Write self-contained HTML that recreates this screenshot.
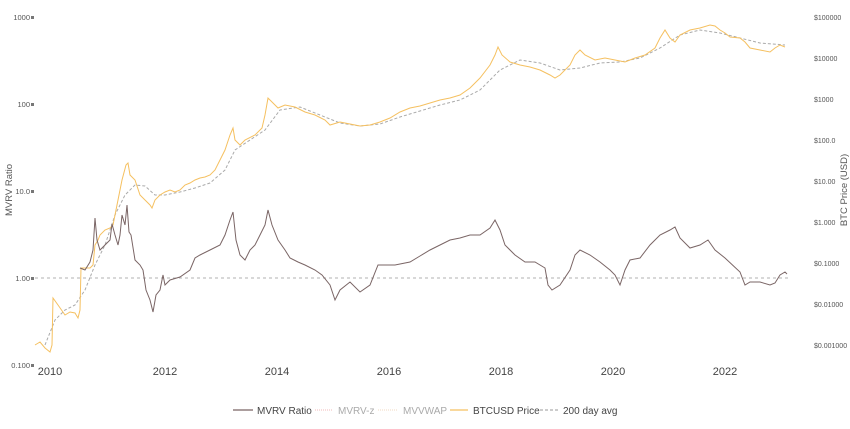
<!DOCTYPE html>
<html><head><meta charset="utf-8"><style>
html,body{margin:0;padding:0;background:#fff;}
svg{display:block;font-family:"Liberation Sans",sans-serif;}
</style></head><body>
<svg width="850" height="429" viewBox="0 0 850 429">
<g font-size="7.5" fill="#555" text-anchor="end">
<text x="30" y="20">1000</text><text x="30" y="107">100</text><text x="30" y="194">10.0</text><text x="30" y="281">1.00</text><text x="30" y="368">0.100</text>
</g>
<g fill="#777"><rect x="31" y="16" width="3" height="3"/><rect x="31" y="103" width="3" height="3"/><rect x="31" y="190" width="3" height="3"/><rect x="31" y="277" width="3" height="3"/><rect x="31" y="364" width="3" height="3"/></g>
<g font-size="7" fill="#555">
<text x="814" y="20">$100000</text><text x="814" y="61">$10000</text><text x="814" y="102">$1000</text><text x="814" y="143">$100.0</text><text x="814" y="184">$10.00</text><text x="814" y="225">$1.000</text><text x="814" y="266">$0.1000</text><text x="814" y="307">$0.01000</text><text x="814" y="348">$0.001000</text>
</g>
<text transform="translate(12,190) rotate(-90)" font-size="9.5" fill="#555" text-anchor="middle">MVRV Ratio</text>
<text transform="translate(847,190) rotate(-90)" font-size="9.5" fill="#555" text-anchor="middle">BTC Price (USD)</text>
<g font-size="11" fill="#444" text-anchor="middle">
<text x="50" y="375">2010</text><text x="165" y="375">2012</text><text x="277" y="375">2014</text><text x="389" y="375">2016</text><text x="501" y="375">2018</text><text x="613" y="375">2020</text><text x="725" y="375">2022</text>
</g>
<line x1="35" y1="278" x2="790" y2="278" stroke="#999" stroke-width="0.8" stroke-dasharray="3,3"/>
<polyline fill="none" stroke="#aaa" stroke-width="1" stroke-dasharray="3,2" points="45,345 55,320 65,310 75,305 85,290 95,265 105,245 115,215 125,195 135,185 145,186 155,195 165,195 180,192 195,188 210,183 225,170 235,150 250,140 265,130 280,110 300,107 320,115 340,123 360,126 380,124 400,117 420,111 440,105 460,100 480,90 500,70 520,60 540,63 560,70 580,68 600,63 620,62 640,58 660,48 680,35 700,30 720,33 740,38 760,43 785,45"/>
<polyline fill="none" stroke="#f5c060" stroke-width="1" points="35,345 40,342 45,348 50,352 52,345 53,298 58,305 65,315 70,312 75,313 78,318 80,310 81,268 84,268 90,268 93,265 95,245 98,240 100,235 105,230 110,228 113,225 118,200 122,180 126,165 128,163 130,175 135,180 140,195 145,200 150,205 152,208 155,200 160,195 165,192 170,190 175,192 180,190 185,185 190,183 195,180 200,178 205,177 210,175 215,170 220,160 225,150 230,135 233,128 235,140 240,145 245,140 255,135 262,128 265,115 268,98 272,102 278,108 285,105 295,107 305,112 315,115 325,120 330,125 340,122 350,124 360,126 370,125 380,122 390,118 400,112 410,108 420,106 430,103 440,100 450,98 460,95 470,88 480,78 490,65 495,55 498,47 502,55 510,62 520,65 530,67 540,70 550,75 555,78 560,75 570,65 575,55 580,50 585,55 595,60 605,58 615,60 625,62 635,58 645,55 655,48 660,38 665,30 670,38 675,42 680,35 690,30 700,28 710,25 715,26 720,30 725,33 730,37 740,38 745,42 750,48 760,50 770,52 775,48 780,45 785,47"/>
<polyline fill="none" stroke="#7a6565" stroke-width="1" points="80,268 85,270 90,262 93,250 95,218 97,240 100,250 105,245 110,240 112,224 115,235 118,245 120,235 122,215 125,225 127,205 129,232 131,235 135,260 140,265 143,270 146,290 150,300 153,312 156,295 160,290 163,275 165,285 170,280 180,277 190,270 195,258 200,255 210,250 220,245 225,235 230,220 233,212 236,240 240,255 245,260 250,250 255,245 260,235 265,225 268,210 272,225 278,240 285,250 290,258 298,262 305,265 315,270 322,275 330,285 335,300 340,290 350,282 360,292 370,285 378,265 385,265 395,265 410,262 420,256 430,250 440,245 450,240 460,238 470,235 480,235 490,228 495,220 500,230 505,245 515,255 525,262 535,262 545,268 548,285 552,290 560,285 570,270 575,255 580,250 590,255 600,262 610,270 615,275 620,285 625,270 630,260 640,258 650,245 660,235 670,230 675,227 680,238 690,248 700,245 708,240 715,250 725,258 740,272 745,285 750,282 760,282 770,285 775,283 780,275 785,272 787,274"/>
<g font-size="10">
<line x1="233" y1="410" x2="253" y2="410" stroke="#7a6565" stroke-width="1.2"/><text x="257" y="414" fill="#444">MVRV Ratio</text>
<line x1="315" y1="410" x2="333" y2="410" stroke="#f0b8b8" stroke-width="1" stroke-dasharray="1,1"/><text x="338" y="414" fill="#aaa">MVRV-z</text>
<line x1="378" y1="410" x2="397" y2="410" stroke="#f0d8c0" stroke-width="1" stroke-dasharray="1,1"/><text x="403" y="414" fill="#aaa">MVVWAP</text>
<line x1="450" y1="410" x2="468" y2="410" stroke="#f5c060" stroke-width="1.2"/><text x="473" y="414" fill="#444">BTCUSD Price</text>
<line x1="540" y1="410" x2="558" y2="410" stroke="#999" stroke-width="1" stroke-dasharray="3,2"/><text x="563" y="414" fill="#444">200 day avg</text>
</g>
</svg>
</body></html>
